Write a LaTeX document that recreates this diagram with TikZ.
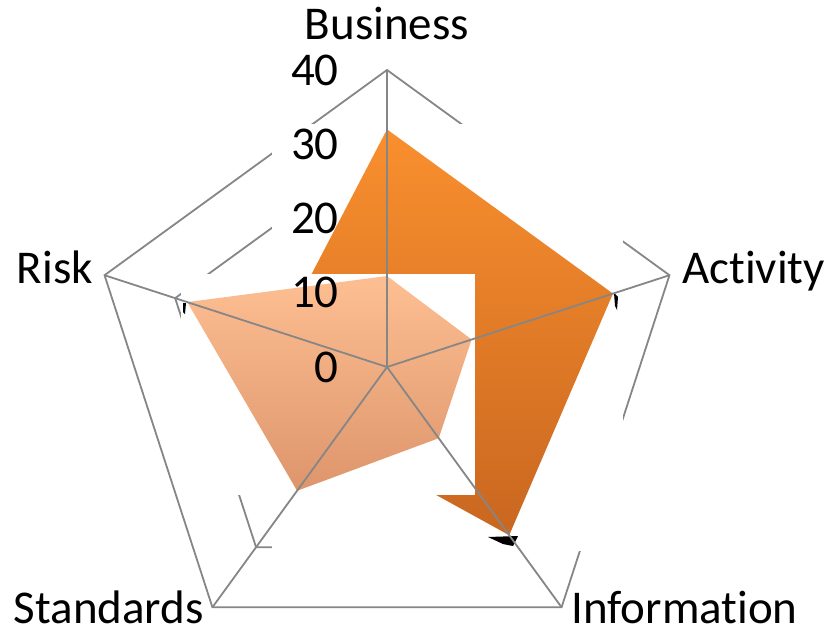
\documentclass[tikz,border=0pt]{standalone}
\usepackage{fontspec}
\setmainfont{Carlito}[Ligatures=NoCommon]
\definecolor{gridgray}{RGB}{134,134,134}
\definecolor{darktop}{RGB}{249,143,46}
\definecolor{darkbot}{RGB}{201,103,32}
\definecolor{lighttop}{RGB}{253,191,146}
\definecolor{lightbot}{RGB}{222,149,108}
\begin{document}
\begin{tikzpicture}
	[x=1pt, y=-1pt,
	grid/.style={draw=gridgray, line width=1.8pt},
	catlabel/.style={font=\fontsize{47}{56}\selectfont, inner sep=0pt},
	ticklabel/.style={font=\fontsize{47}{56}\selectfont, inner sep=0pt, anchor=east}]
	\useasboundingbox (0,0) rectangle (828,634);
	\coordinate (O) at (387,367);
	% spoke ends
	\foreach \n/\a in {B/-90, A/-18, I/54, S/126, R/198}
		\coordinate (\n) at ([shift={(387,367)}]\a:297);
	% rings
	\foreach \r in {74.25,148.5,222.75,297}
		\draw[grid, shift={(387,367)}] (-90:\r) -- (-18:\r) -- (54:\r) -- (126:\r) -- (198:\r) -- cycle;
	% first series
	\fill[white] (272,124) rectangle (623,551);
	\shade[top color=darktop, bottom color=darkbot, shift={(387,367)}]
		(-90:237.6) -- (-18:237.6) -- (54:207.9) -- (126:89.1) -- (198:111.4) -- cycle;
	\fill[black] (614,293) -- (618,297) -- (617,310) -- (615,306) -- cycle;
	\fill[black] (488,537) -- (518,536) -- (513,546) -- (503,544) -- cycle;
	% second series
	\fill[white] (181,274) rectangle (475,495);
	\shade[top color=lighttop, bottom color=lightbot, shift={(387,367)}]
		(-90:91) -- (-18:89) -- (54:88) -- (126:153) -- (198:210) -- cycle;
	\fill[black] (183,303) -- (186,303) -- (185,314) -- (183,312) -- cycle;
	% spokes
	\foreach \n in {B,A,I,S,R}
		\draw[grid] (O) -- (\n);
	% labels
	\node[catlabel, anchor=base] (lB) at (387,40) {Business};
	\node[catlabel, anchor=base west] (lA) at (682,283) {Activity};
	\node[catlabel, anchor=base west] (lI) at (571,623) {Information};
	\node[catlabel, anchor=base east] (lS) at (204,623) {Standards};
	\node[catlabel, anchor=base east] (lR) at (93,283) {Risk};
	\foreach \v in {0,10,20,30,40}
		\node[ticklabel] (t\v) at (339,367-7.425*\v) {\v};
\end{tikzpicture}
\end{document}
